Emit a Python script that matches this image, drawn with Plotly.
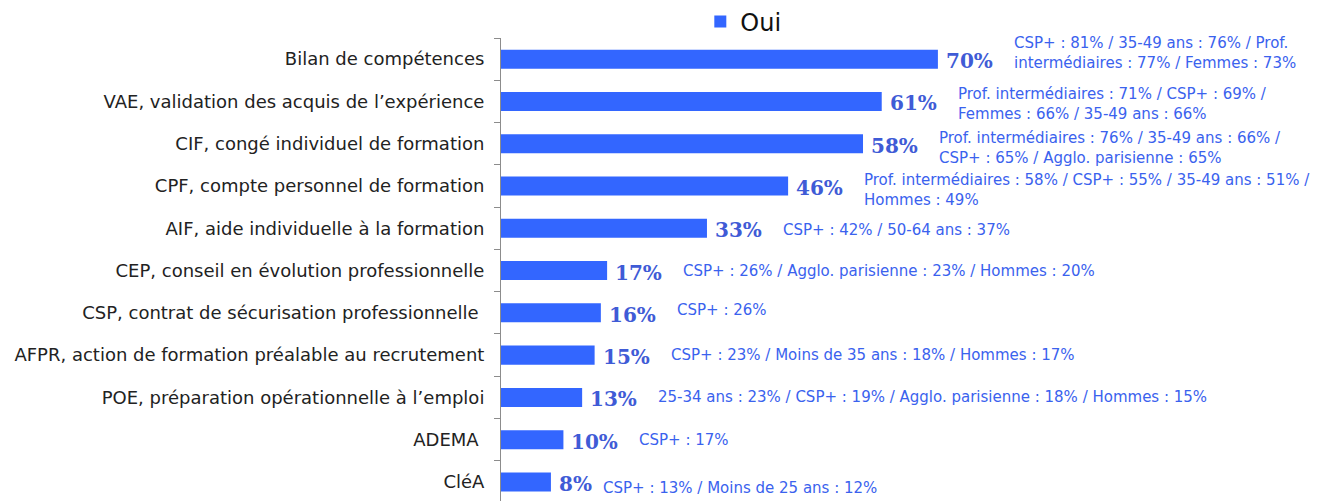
import plotly.graph_objects as go

categories = [
    "Bilan de compétences",
    "VAE, validation des acquis de l\u2019expérience",
    "CIF, congé individuel de formation",
    "CPF, compte personnel de formation",
    "AIF, aide individuelle à la formation",
    "CEP, conseil en évolution professionnelle",
    "CSP, contrat de sécurisation professionnelle\u00a0",
    "AFPR, action de formation préalable au recrutement",
    "POE, préparation opérationnelle à l\u2019emploi",
    "ADEMA\u00a0",
    "CléA",
]
values = [70, 61, 58, 46, 33, 17, 16, 15, 13, 10, 8]
comments = [
    "CSP+ : 81% / 35-49 ans : 76% / Prof.<br>intermédiaires : 77% / Femmes : 73%",
    "Prof. intermédiaires : 71% / CSP+ : 69% /<br>Femmes : 66% / 35-49 ans : 66%",
    "Prof. intermédiaires : 76% / 35-49 ans : 66% /<br>CSP+ : 65% / Agglo. parisienne : 65%",
    "Prof. intermédiaires : 58% / CSP+ : 55% / 35-49 ans : 51% /<br>Hommes : 49%",
    "CSP+ : 42% / 50-64 ans : 37%",
    "CSP+ : 26% / Agglo. parisienne : 23% / Hommes : 20%",
    "CSP+ : 26%",
    "CSP+ : 23% / Moins de 35 ans : 18% / Hommes : 17%",
    "25-34 ans : 23% / CSP+ : 19% / Agglo. parisienne : 18% / Hommes : 15%",
    "CSP+ : 17%",
    "CSP+ : 13% / Moins de 25 ans : 12%",
]
series_name = "Oui"

# vertical nudges (pixels, positive = up) for the comment labels
comment_dy = [6, -3, -4, -4, -2, 0, 3, 0, 0, 0, -6]

BAR_COLOR = "#3366ff"
PCT_COLOR = "#3f5bd6"
COMMENT_COLOR = "#3a62ee"

fig = go.Figure()
fig.add_trace(go.Bar(
    y=categories, x=values, orientation="h", name=series_name,
    marker=dict(color=BAR_COLOR, line=dict(width=0)),
    width=0.45, showlegend=True,
))

annotations = []
for cat, v, c, dy in zip(categories, values, comments, comment_dy):
    lbl = f"{v}%"
    annotations.append(dict(
        x=v, y=cat, xref="x", yref="y", text=f"<b>{lbl}</b>",
        showarrow=False, xanchor="left", yanchor="middle", xshift=6, yshift=-2,
        font=dict(family="DejaVu Serif", size=20, color=PCT_COLOR),
    ))
    annotations.append(dict(
        x=v, y=cat, xref="x", yref="y", text=c,
        showarrow=False, xanchor="left", yanchor="middle", align="left",
        xshift=24 * len(lbl) + 2, yshift=dy,
        font=dict(family="DejaVu Sans", size=15, color=COMMENT_COLOR),
    ))

# the page body adds an 8px offset, so the figure is sized/margined to compensate
fig.update_layout(
    width=1320, height=493,
    margin=dict(l=493, r=0, t=30, b=0, autoexpand=False),
    paper_bgcolor="white", plot_bgcolor="white",
    font=dict(family="DejaVu Sans", color="#222222"),
    legend=dict(orientation="h", x=0.293, xanchor="center", y=1.0346, yanchor="middle",
                font=dict(size=24, color="#111111"), itemwidth=30,
                bgcolor="rgba(0,0,0,0)"),
    annotations=annotations,
    showlegend=True,
)
fig.update_xaxes(range=[0, 132.5], visible=False, showgrid=False, zeroline=False)
fig.update_yaxes(
    type="category", categoryorder="array", categoryarray=categories,
    range=[10.45, -0.5],
    showline=True, linecolor="#8c8c8c", linewidth=1,
    ticks="outside", tickson="boundaries", ticklen=6, tickcolor="#8c8c8c",
    ticklabelstandoff=12,
    tickfont=dict(family="DejaVu Sans", size=18, color="#222222"),
    showgrid=False, zeroline=False,
)

fig.write_html("out.html")
